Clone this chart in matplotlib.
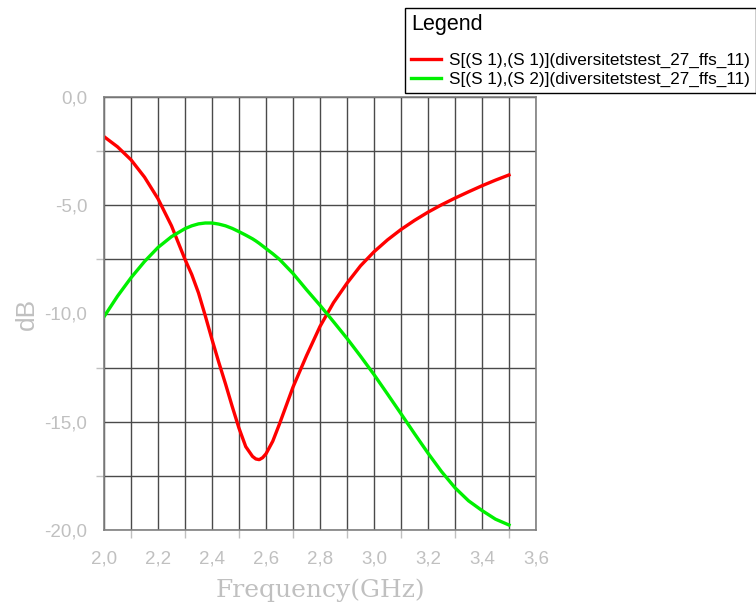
import numpy as np
import matplotlib.pyplot as plt
from matplotlib.ticker import MultipleLocator, FuncFormatter

#frequency points (GHz)
freq = [2.00, 2.05, 2.10, 2.15, 2.20, 2.25, 2.30, 2.325, 2.35, 2.375, 2.40, 2.425, 2.45, 2.475,
        2.50, 2.525, 2.55, 2.5625, 2.575, 2.5875, 2.60, 2.625, 2.65, 2.70, 2.75, 2.80, 2.85, 2.90,
        2.95, 3.00, 3.05, 3.10, 3.15, 3.20, 3.25, 3.30, 3.35, 3.40, 3.45, 3.50]

#S11 in dB
s11 = [-1.83, -2.3, -2.9, -3.7, -4.7, -5.95, -7.5, -8.2, -9.05, -10.1, -11.2, -12.25, -13.25, -14.3,
       -15.3, -16.15, -16.6, -16.72, -16.75, -16.66, -16.48, -15.9, -15.1, -13.4, -11.95, -10.6, -9.5, -8.6,
       -7.8, -7.15, -6.6, -6.12, -5.7, -5.32, -4.98, -4.67, -4.38, -4.1, -3.84, -3.6]

#S21 in dB
s21 = [-10.15, -9.2, -8.35, -7.6, -6.95, -6.45, -6.08, -5.95, -5.86, -5.82, -5.82, -5.87, -5.95, -6.07,
       -6.22, -6.38, -6.55, -6.65, -6.76, -6.88, -7.0, -7.24, -7.5, -8.15, -8.9, -9.62, -10.38, -11.15,
       -11.97, -12.82, -13.72, -14.63, -15.55, -16.45, -17.3, -18.05, -18.65, -19.1, -19.5, -19.77]

labels = ['S[(S 1),(S 1)](diversitetstest_27_ffs_11)',
          'S[(S 1),(S 2)](diversitetstest_27_ffs_11)']

grey = '#c0c0c0'

fig = plt.figure(figsize=(7.56, 6.09), dpi=100)
ax = fig.add_axes([104/756, 1 - 530/609, 432/756, 433/609])

ax.plot(freq, s11, color='#ff0000', lw=2.4, label=labels[0])
ax.plot(freq, s21, color='#00f000', lw=2.4, label=labels[1])

ax.set_xlim(2.0, 3.6)
ax.set_ylim(-20, 0)
ax.xaxis.set_major_locator(MultipleLocator(0.2))
ax.xaxis.set_minor_locator(MultipleLocator(0.1))
ax.yaxis.set_major_locator(MultipleLocator(5))
ax.yaxis.set_minor_locator(MultipleLocator(2.5))
comma = FuncFormatter(lambda v, p: ('%.1f' % v).replace('.', ','))
ax.xaxis.set_major_formatter(comma)
ax.yaxis.set_major_formatter(comma)

ax.grid(which='both', color='#4a4a4a', lw=1)
ax.set_axisbelow(True)
for s in ax.spines.values():
    s.set_color('#808080')
    s.set_linewidth(1.2)

ax.tick_params(which='major', length=0, labelcolor=grey, labelsize=13.5)
ax.tick_params(axis='x', which='major', pad=15)
ax.tick_params(axis='y', which='major', pad=12)
ax.tick_params(which='minor', length=6, color=grey, width=1)
for t in ax.get_xticklabels() + ax.get_yticklabels():
    t.set_family('Liberation Sans')

ax.set_xlabel('Frequency(GHz)', family='DejaVu Serif', fontsize=18, color=grey, labelpad=8)
ax.set_ylabel('dB', family='Liberation Sans', fontsize=19, color=grey, labelpad=4)

leg = ax.legend(title='Legend', loc='upper left', bbox_to_anchor=(405/756, 1 - 8/609),
                bbox_transform=fig.transFigure, frameon=True, fancybox=False,
                edgecolor='#000000', framealpha=1, borderpad=0.35, handlelength=1.75,
                handletextpad=0.5, labelspacing=0.2, borderaxespad=0,
                prop={'family': 'Liberation Sans', 'size': 12.3},
                title_fontproperties={'family': 'Liberation Sans', 'size': 15.5},
                alignment='left')
leg.get_frame().set_linewidth(1)
leg._legend_box.sep = 13

plt.savefig('out.png', dpi=100)
